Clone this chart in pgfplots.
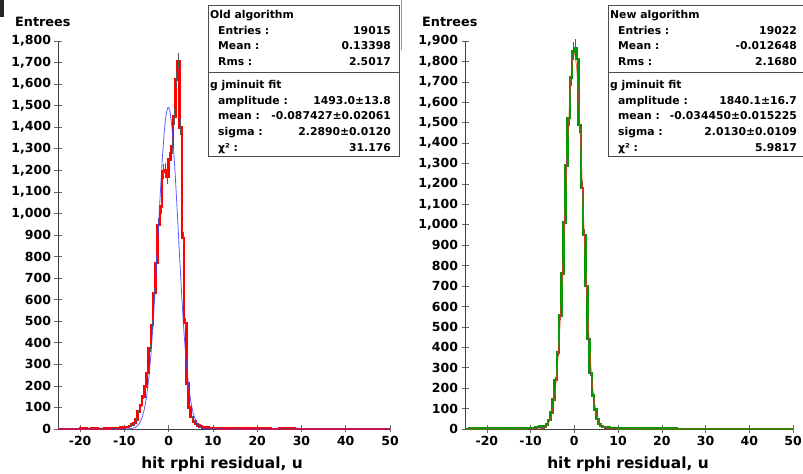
\documentclass[border=0pt]{standalone}
\usepackage{pgfplots}
\pgfplotsset{compat=1.18}
\usepackage{pgfplotstable}
\usepackage{fontspec}
\setmainfont{DejaVu Sans}

\newcommand\tickfont{\fontsize{12.5bp}{14bp}\selectfont\bfseries}
\newcommand\boxfont{\fontsize{10.8bp}{13bp}\selectfont\bfseries}

% histograms: left bin edge, entries (bins of 0.5)
\pgfplotstableread{
x y
-25 0
-20 2
-18.5 0
-17.5 3
-16 0
-14.5 2
-13 4
-12 3
-11 6
-10 9
-9 14
-8.5 20
-8 28
-7.5 45
-7 80
-6.5 111
-6 150
-5.5 196
-5 260
-4.5 376
-4 482
-3.5 631
-3 770
-2.5 946
-2 1031
-1.5 1194
-1 1200
-0.5 1172
0 1250
0.5 1310
1 1450
1.5 1620
2 1705
2.5 1400
3 886
3.5 492
4 210
4.5 100
5 55
5.5 35
6 24
6.5 16
7 11
7.5 8
8 6
9 5
10 4
11 3
13 3
15 2
17 3
19 1
21 2
23 0
25 1
27 2
28.5 0
50 0
}\oldhist

\pgfplotstableread{
x y
-25 0
-24 2
-22 1
-19 2
-17 1
-15 3
-13 2
-11 4
-10 5
-9 7
-8.5 9
-8 12
-7.5 8
-7 11
-6.5 22
-6 44
-5.5 82
-5 145
-4.5 240
-4 375
-3.5 555
-3 760
-2.5 1010
-2 1290
-1.5 1523
-1 1720
-0.5 1850
0 1865
0.5 1812
1 1489
1.5 1180
2 950
2.5 700
3 440
3.5 275
4 165
4.5 95
5 48
5.5 24
6 14
6.5 9
7 6
8 5
9 4
10 3
12 3
14 2
16 2
18 1
20 2
22 1
23.5 0
50 0
}\newhist

\pgfplotsset{
  resid/.style={
    scale only axis, height=388bp,
    xmin=-25, xmax=50, ymin=0,
    axis x line*=bottom, axis y line*=left,
    axis line style={black!75, line width=0.8bp},
    xtick={-20,-10,...,50},
    xticklabels={-20,-10,0,10,20,30,40,50},
    ytick distance=100,
    tick align=center, major tick length=7bp,
    tick style={black!60, line width=0.6bp},
    ticklabel style={font=\tickfont},
    yticklabel style={/pgf/number format/.cd, 1000 sep={,}, assume math mode=true},
    clip=false,
  },
  errs/.style={draw=none, mark=none, forget plot,
    error bars/.cd, y dir=both, y explicit,
    error bar style={draw=black!65, line width=0.7bp}, error mark=none},
}

\begin{document}
\begin{tikzpicture}
\useasboundingbox (0,0) rectangle (803bp,474bp);
\fill[black!85] (0,474bp) rectangle (4bp,457bp);
\draw[black!40, line width=0.8bp] (401bp,474bp) -- (401bp,424bp);

% ---------- old algorithm ----------
\begin{axis}[resid, at={(58bp,45bp)}, anchor=south west, width=332bp, ymax=1800]
\addplot[const plot, red, line width=2.6bp] table {\oldhist};
\addplot[errs] table[x expr=\thisrow{x}+0.25, y=y, y error expr=sqrt(\thisrow{y})] {\oldhist};
\addplot[blue!75!white, line width=0.8bp, opacity=0.85] coordinates {
(-25,0) (-10,0.1) (-9,0.8) (-8,3.8) (-7.5,7.9) (-7,15.6) (-6.5,29.5) (-6,53.1)
(-5.5,91.1) (-5,149.2) (-4.5,232.8) (-4,346.4) (-3.5,491.2) (-3,664.4)
(-2.5,856.5) (-2,1052.9) (-1.5,1234.0) (-1,1378.9) (-0.75,1431.7) (-0.5,1468.9)
(-0.25,1489.2) (0,1491.9) (0.25,1476.9) (0.5,1444.7) (0.75,1396.5) (1,1333.8)
(1.5,1174.0) (2,985.3) (2.5,788.3) (3,601.3) (3.5,437.3) (4,303.2) (4.5,200.5)
(5,126.3) (5.5,75.9) (6,43.5) (6.5,23.8) (7,12.4) (7.5,6.1) (8,2.9) (9,0.6)
(10,0.1) (50,0)};
\end{axis}

% ---------- new algorithm ----------
\begin{axis}[resid, at={(465bp,45bp)}, anchor=south west, width=328bp, ymax=1900]
\addplot[const plot, green!60!black, line width=2.6bp] table {\newhist};
\addplot[errs] table[x expr=\thisrow{x}+0.25, y=y, y error expr=sqrt(\thisrow{y})] {\newhist};
\addplot[red!85!white, line width=0.8bp, opacity=0.7] coordinates {
(-25,0) (-10,0) (-8,0.7) (-7.5,1.9) (-7,4.6) (-6.5,10.6) (-6,22.8) (-5.5,46.1)
(-5,87.8) (-4.5,157.0) (-4,264.2) (-3.5,417.9) (-3,621.4) (-2.5,868.8)
(-2,1142.0) (-1.5,1411.4) (-1,1639.9) (-0.75,1727.2) (-0.5,1791.3)
(-0.25,1829.4) (0,1839.7) (0.25,1821.8) (0.5,1776.4) (0.75,1705.6) (1,1612.6)
(1.5,1376.3) (2,1104.4) (2.5,833.1) (3,590.9) (3.5,394.0) (4,247.1) (4.5,145.6)
(5,80.7) (5.5,42.0) (6,20.6) (6.5,9.5) (7,4.1) (7.5,1.7) (8,0.6) (10,0) (50,0)};
\end{axis}

% titles and axis labels
\node[anchor=base west, inner sep=0, font=\fontsize{12.8bp}{16bp}\selectfont\bfseries] at (15bp,447bp) {Entrees};
\node[anchor=base west, inner sep=0, font=\fontsize{12.8bp}{16bp}\selectfont\bfseries] at (422bp,447bp) {Entrees};
\node[anchor=base, inner sep=0, font=\fontsize{15.4bp}{18bp}\selectfont\bfseries] at (222bp,6bp) {hit rphi residual, u};
\node[anchor=base, inner sep=0, font=\fontsize{15.4bp}{18bp}\selectfont\bfseries] at (628bp,6bp) {hit rphi residual, u};

% statistics boxes
\begin{scope}[font=\boxfont, every node/.style={inner sep=0}]
\fill[white] (208bp,318bp) rectangle (399.5bp,469bp);
\draw[black!70, line width=0.8bp] (208bp,318bp) rectangle (399.5bp,469bp);
\draw[black!70, line width=0.8bp] (208bp,402bp) -- (399.5bp,402bp);
\node[anchor=base west] at (210bp,455bp) {Old algorithm};
\node[anchor=base west] at (218bp,439bp) {Entries :};
\node[anchor=base east] at (391bp,439bp) {19015};
\node[anchor=base west] at (218bp,424bp) {Mean :};
\node[anchor=base east] at (391bp,424bp) {0.13398};
\node[anchor=base west] at (218bp,408bp) {Rms :};
\node[anchor=base east] at (391bp,408bp) {2.5017};
\node[anchor=base west] at (210bp,385bp) {g jminuit fit};
\node[anchor=base west] at (218bp,369bp) {amplitude :};
\node[anchor=base east] at (391bp,369bp) {1493.0±13.8};
\node[anchor=base west] at (218bp,354bp) {mean :};
\node[anchor=base east] at (391bp,354bp) {-0.087427±0.02061};
\node[anchor=base west] at (218bp,338bp) {sigma :};
\node[anchor=base east] at (391bp,338bp) {2.2890±0.0120};
\node[anchor=base west] at (218bp,322bp) {χ² :};
\node[anchor=base east] at (391bp,322bp) {31.176};

\fill[white] (608bp,318bp) rectangle (803bp,469bp);
\draw[black!70, line width=0.8bp] (608bp,318bp) rectangle (805bp,469bp);
\draw[black!70, line width=0.8bp] (608bp,402bp) -- (805bp,402bp);
\node[anchor=base west] at (610bp,455bp) {New algorithm};
\node[anchor=base west] at (618bp,439bp) {Entries :};
\node[anchor=base east] at (797bp,439bp) {19022};
\node[anchor=base west] at (618bp,424bp) {Mean :};
\node[anchor=base east] at (797bp,424bp) {-0.012648};
\node[anchor=base west] at (618bp,408bp) {Rms :};
\node[anchor=base east] at (797bp,408bp) {2.1680};
\node[anchor=base west] at (610bp,385bp) {g jminuit fit};
\node[anchor=base west] at (618bp,369bp) {amplitude :};
\node[anchor=base east] at (797bp,369bp) {1840.1±16.7};
\node[anchor=base west] at (618bp,354bp) {mean :};
\node[anchor=base east] at (797bp,354bp) {-0.034450±0.015225};
\node[anchor=base west] at (618bp,338bp) {sigma :};
\node[anchor=base east] at (797bp,338bp) {2.0130±0.0109};
\node[anchor=base west] at (618bp,322bp) {χ² :};
\node[anchor=base east] at (797bp,322bp) {5.9817};
\end{scope}
\end{tikzpicture}
\end{document}
